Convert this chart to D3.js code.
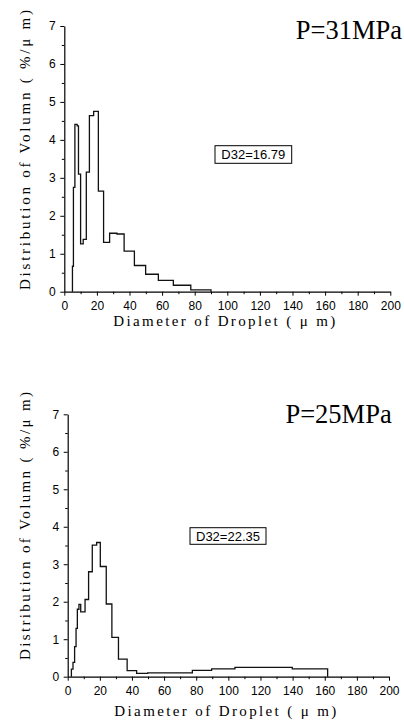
<!DOCTYPE html>
<html>
<head>
<meta charset="utf-8">
<script src="https://cdn.jsdelivr.net/npm/d3@7"></script>
<style>
  body { margin: 0; background: #fff; }
  svg { display: block; }
  .tick text { font-family: "Liberation Sans", Arial, sans-serif; font-size: 12px; fill: #000; }
  .axis-title { font-family: "Liberation Serif", "Times New Roman", serif; font-size: 15px; fill: #000; }
  .panel-title { font-family: "Liberation Serif", "Times New Roman", serif; font-size: 26.5px; fill: #000; }
  .note { font-family: "Liberation Sans", Arial, sans-serif; font-size: 13px; fill: #000; }
</style>
</head>
<body>
<div id="chart"></div>
<script>
// bin edges (um) and volume distribution (%/um)
const edges31 = [5.0, 5.6, 6.5, 7.9, 8.7, 10.0, 11.6, 13.5, 15.4, 18.0, 20.9, 24.1, 27.8, 32.3, 36.7, 43.0, 49.9, 57.7, 66.9, 77.6, 90];
const values31 = [0.67, 2.75, 4.41, 4.37, 3.10, 1.26, 1.38, 3.15, 4.64, 4.75, 2.65, 1.30, 1.54, 1.52, 1.07, 0.69, 0.46, 0.30, 0.17, 0.05];

const edges25 = [2.3, 3.3, 4.3, 5.2, 6.0, 7.0, 8.1, 10.8, 13.0, 15.3, 18.0, 20.3, 24.0, 27.5, 31.6, 37.0, 42.9, 49.8, 77.6, 89.6, 104.1, 139.8, 161.8];
const values25 = [0.2, 0.38, 0.8, 1.29, 1.80, 1.93, 1.73, 2.06, 2.80, 3.51, 3.58, 2.94, 1.94, 1.05, 0.47, 0.16, 0.09, 0.10, 0.17, 0.21, 0.25, 0.21];

const xTicks = [0, 20, 40, 60, 80, 100, 120, 140, 160, 180, 200];
const xMinor = d3.range(10, 200, 20);
const yTicks = [0, 1, 2, 3, 4, 5, 6, 7];
const yMinor = d3.range(0.5, 7, 1);

const titles = ["P=31MPa", "P=25MPa"];
const notes = ["D32=16.79", "D32=22.35"];

const width = 404, height = 722;

const svg = d3.select("#chart").append("svg")
  .attr("width", width)
  .attr("height", height);

// pixel layout of each panel
const panels = [
  { edges: edges31, values: values31, title: titles[0], note: notes[0],
    left: 64.3, right: 390.3, top: 26, bottom: 291.7,
    titleX: 402, titleY: 39, box: [215, 145.7, 76.7, 17.6],
    xTitleY: 326, yTitleX: 30, yTitleY: 150, yTitleLen: 280 },
  { edges: edges25, values: values25, title: titles[1], note: notes[1],
    left: 67.7, right: 389, top: 414.3, bottom: 676.7,
    titleX: 391.7, titleY: 423.3, box: [190, 527.7, 76, 16.6],
    xTitleY: 716, yTitleX: 30, yTitleY: 526, yTitleLen: 268 }
];

panels.forEach(function (p) {
  let x = d3.scaleLinear().domain([0, 200]).range([p.left, p.right]);
  let y = d3.scaleLinear().domain([0, 7]).range([p.bottom, p.top]);

  const g = svg.append("g");

  // step histogram outline
  let pts = [[p.edges[0], 0]];
  p.values.forEach((v, i) => pts.push([p.edges[i], v]));
  pts.push([p.edges[p.edges.length - 1], 0]);

  g.append("path")
    .datum(pts)
    .attr("fill", "none")
    .attr("stroke", "#111")
    .attr("stroke-width", 1.3)
    .attr("d", d3.line().x(d => x(d[0])).y(d => y(d[1])).curve(d3.curveStepAfter));

  // minor ticks
  g.append("g")
    .attr("transform", `translate(0,${p.bottom})`)
    .call(d3.axisBottom(x).tickValues(xMinor).tickSize(2.5).tickFormat(""))
    .call(a => a.select(".domain").remove());
  g.append("g")
    .attr("transform", `translate(${p.left},0)`)
    .call(d3.axisLeft(y).tickValues(yMinor).tickSize(2.5).tickFormat(""))
    .call(a => a.select(".domain").remove());

  // main axes
  g.append("g")
    .attr("transform", `translate(0,${p.bottom})`)
    .call(d3.axisBottom(x).tickValues(xTicks).tickSize(4).tickSizeOuter(0).tickPadding(6).tickFormat(d3.format("d")))
    .call(a => a.select(".domain").attr("stroke-width", 1.2));
  g.append("g")
    .attr("transform", `translate(${p.left},0)`)
    .call(d3.axisLeft(y).tickValues(yTicks).tickSize(4).tickSizeOuter(0).tickPadding(4.5).tickFormat(d3.format("d")))
    .call(a => a.select(".domain").attr("stroke-width", 1.2));

  // axis titles
  g.append("text")
    .attr("class", "axis-title")
    .attr("x", (p.left + p.right) / 2 - 3)
    .attr("y", p.xTitleY)
    .attr("text-anchor", "middle")
    .attr("textLength", 222)
    .attr("lengthAdjust", "spacing")
    .text("Diameter of Droplet (  μ m)");

  g.append("text")
    .attr("class", "axis-title")
    .attr("transform", `translate(${p.yTitleX},${p.yTitleY}) rotate(-90)`)
    .attr("text-anchor", "middle")
    .attr("textLength", p.yTitleLen)
    .attr("lengthAdjust", "spacing")
    .text("Distribution of Volumn ( %/μ m)");

  // pressure label
  g.append("text")
    .attr("class", "panel-title")
    .attr("x", p.titleX)
    .attr("y", p.titleY)
    .attr("text-anchor", "end")
    .text(p.title);

  // D32 box
  g.append("rect")
    .attr("x", p.box[0]).attr("y", p.box[1])
    .attr("width", p.box[2]).attr("height", p.box[3])
    .attr("fill", "#fff")
    .attr("stroke", "#000")
    .attr("stroke-width", 1);
  g.append("text")
    .attr("class", "note")
    .attr("x", p.box[0] + p.box[2] / 2)
    .attr("y", p.box[1] + p.box[3] / 2 + 4.5)
    .attr("text-anchor", "middle")
    .text(p.note);
});
</script>
</body>
</html>
